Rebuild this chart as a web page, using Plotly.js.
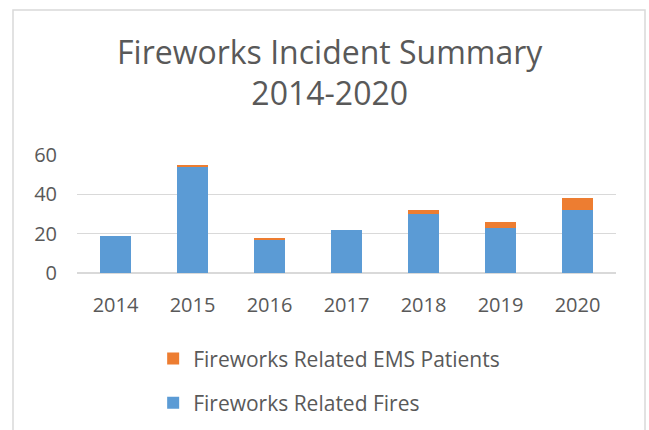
<!DOCTYPE html>
<html>
<head>
<meta charset="utf-8">
<script src="https://cdn.plot.ly/plotly-3.0.1.min.js"></script>
<style>
html,body{margin:0;padding:0;background:#fff;}
#chart{width:649px;height:430px;}
</style>
</head>
<body>
<div id="chart"></div>
<script>
var years = ['2014','2015','2016','2017','2018','2019','2020'];
var fires = [19, 54, 17, 22, 30, 23, 32];
var emsPatients = [0, 1, 1, 0, 2, 3, 6];
var seriesNames = ['Fireworks Related Fires', 'Fireworks Related EMS Patients'];
var titleText = 'Fireworks Incident Summary<br>2014-2020';

var textColor = '#595959';
var font = '"Open Sans", Carlito, Calibri, sans-serif';

var traces = [
  {type:'bar', name:seriesNames[0], x:years, y:fires, marker:{color:'#5B9BD5', line:{width:0}}, legendgroup:'b', legendrank:2, hoverinfo:'x+y'},
  {type:'bar', name:seriesNames[1], x:years, y:emsPatients, marker:{color:'#ED7D31', line:{width:0}}, legendgroup:'a', legendrank:1, hoverinfo:'x+y'}
];

var layout = {
  width:649, height:430,
  margin:{l:77, r:33, t:155, b:157, autoexpand:false},
  paper_bgcolor:'#fff', plot_bgcolor:'#fff',
  barmode:'stack', bargap:0.6,
  font:{family:font, color:textColor, size:20},
  title:{text:titleText, font:{family:font, size:32, color:textColor}, xref:'container', x:0.508, xanchor:'center', yref:'container', y:0.852, yanchor:'top'},
  xaxis:{type:'category', showgrid:false, zeroline:false, showline:false, ticks:'', tickangle:0, ticklabelstandoff:18, tickfont:{size:20, color:textColor}},
  yaxis:{range:[0,60], tickvals:[0,20,40,60], showgrid:true, gridcolor:'#D9D9D9', gridwidth:1.5, zeroline:true, zerolinecolor:'#D9D9D9', zerolinewidth:1.5, showline:false, ticks:'', ticklabelstandoff:19, tickfont:{size:20, color:textColor}},
  showlegend:true,
  legend:{orientation:'v', traceorder:'grouped', tracegroupgap:14, xref:'container', x:0.236, xanchor:'left', yref:'container', y:0.213, yanchor:'top', font:{size:21, color:textColor}, bgcolor:'rgba(0,0,0,0)'},
  shapes:[{type:'rect', xref:'paper', yref:'paper', x0:(13-77)/539, x1:(645-77)/539, y0:-1.5, y1:(273-10)/118, line:{color:'#D9D9D9', width:1.5}, fillcolor:'rgba(0,0,0,0)', layer:'below'}]
};

Plotly.newPlot('chart', traces, layout, {displayModeBar:false, staticPlot:true});
</script>
</body>
</html>
